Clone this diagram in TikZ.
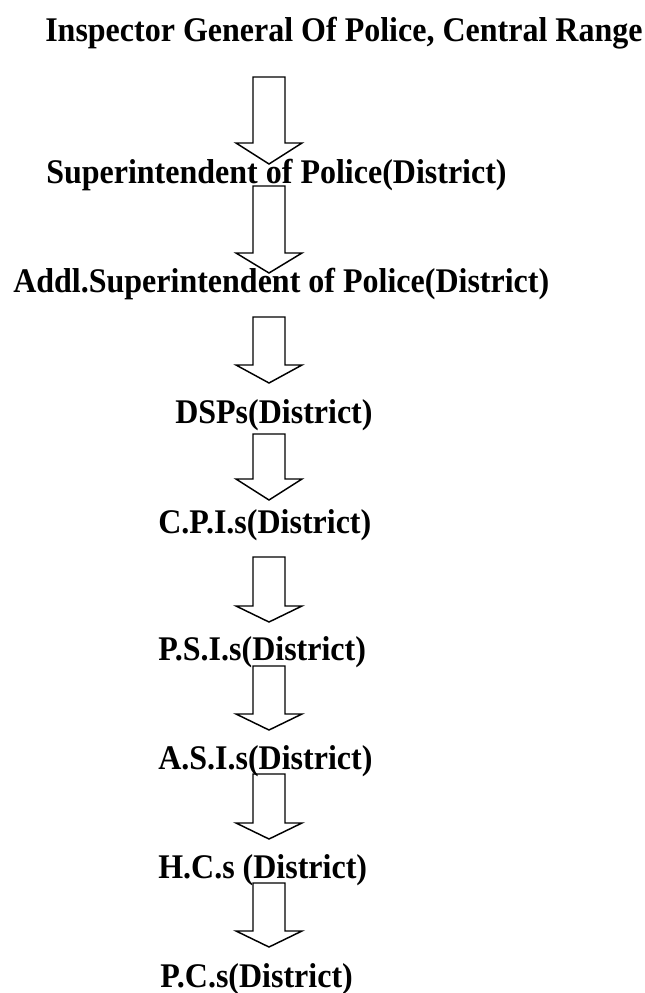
\documentclass[tikz,border=0pt]{standalone}
\usepackage{fontspec}
\usepackage{graphicx}
\setmainfont{Liberation Serif}

\newcommand{\tallname}[1]{\scalebox{1}[1.08]{#1}}
\tikzset{
  rank/.style={anchor=base west, inner sep=0pt, font=\fontsize{24}{28}\selectfont\bfseries},
  blockarrow/.style={draw=black, line width=1.1pt, line join=miter}
}

\begin{document}
\begin{tikzpicture}[x=0.75pt, y=-0.75pt]
  \useasboundingbox (0,0) rectangle (645,993);
  % ranks, top to bottom
  \node[rank] (igp) at (45,41) {\tallname{Inspector General Of Police, Central Range}};
  \node[rank] (sp) at (46,183) {\tallname{Superintendent of Police(District)}};
  \node[rank] (addlsp) at (13,292) {\tallname{Addl.Superintendent of Police(District)}};
  \node[rank] (dsp) at (175,423) {\tallname{DSPs(District)}};
  \node[rank] (cpi) at (158,533) {\tallname{C.P.I.s(District)}};
  \node[rank] (psi) at (158,660) {\tallname{P.S.I.s(District)}};
  \node[rank] (asi) at (158,769) {\tallname{A.S.I.s(District)}};
  \node[rank] (hc) at (158,878) {\tallname{H.C.s (District)}};
  \node[rank] (pc) at (160,987) {\tallname{P.C.s(District)}};
  % block arrows: top of shaft / base of head / tip
  \foreach \t/\b/\e in {77/143/164, 186/253/273, 317/365/383, 434/479/500,
                        557/606/622, 666/714/730, 774/823/839, 883/931/947}
    \draw[blockarrow] (253,\t) -- (253,\b) -- (236,\b) -- (269,\e)
      -- (302,\b) -- (285,\b) -- (285,\t) -- cycle;
\end{tikzpicture}
\end{document}
